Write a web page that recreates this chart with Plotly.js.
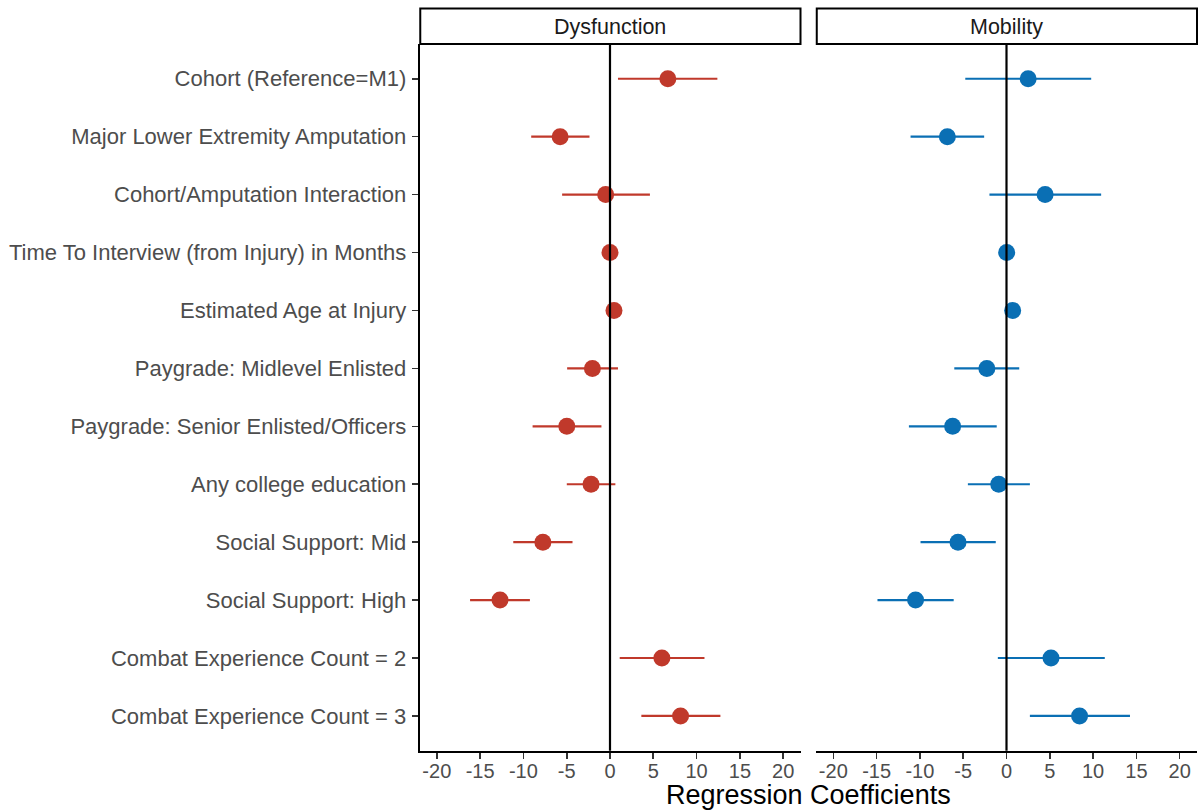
<!DOCTYPE html>
<html>
<head>
<meta charset="utf-8">
<script src="https://cdn.plot.ly/plotly-3.0.1.min.js"></script>
<style>html,body{margin:0;padding:0;background:#fff;}#chart{width:1201px;height:811px;}</style>
</head>
<body>
<div id="chart"></div>
<script>
const terms = [
  "Cohort (Reference=M1)",
  "Major Lower Extremity Amputation",
  "Cohort/Amputation Interaction",
  "Time To Interview (from Injury) in Months",
  "Estimated Age at Injury",
  "Paygrade: Midlevel Enlisted",
  "Paygrade: Senior Enlisted/Officers",
  "Any college education",
  "Social Support: Mid",
  "Social Support: High",
  "Combat Experience Count = 2",
  "Combat Experience Count = 3"
];
const panels = ["Dysfunction", "Mobility"];

const dysEst = [6.68, -5.76, -0.5, 0.0, 0.46, -2.03, -4.99, -2.19, -7.75, -12.7, 5.99, 8.15];
const dysLo  = [0.92, -9.1, -5.53, -0.3, 0.2, -4.95, -8.94, -4.99, -11.17, -16.16, 1.12, 3.62];
const dysHi  = [12.4, -2.37, 4.61, 0.3, 0.7, 0.92, -0.99, 0.62, -4.33, -9.25, 10.91, 12.75];

const mobEst = [2.5, -6.83, 4.46, 0.02, 0.71, -2.27, -6.22, -0.9, -5.6, -10.5, 5.14, 8.44];
const mobLo  = [-4.76, -11.08, -1.97, -0.3, 0.45, -6.03, -11.27, -4.46, -9.93, -14.9, -1.0, 2.7];
const mobHi  = [9.78, -2.58, 10.93, 0.35, 1.0, 1.47, -1.13, 2.7, -1.24, -6.1, 11.35, 14.26];

const tickVals = [-20, -15, -10, -5, 0, 5, 10, 15, 20];
const tickText = ["-20", "-15", "-10", "-5", "0", "5", "10", "15", "20"];

const red = "#C0392B";
const blue = "#0A6FB4";
const FONT = "Liberation Sans, Arial, Helvetica, sans-serif";

function trace(est, lo, hi, color, xa, ya) {
  return {
    type: "scatter", mode: "markers",
    x: est, y: terms, xaxis: xa, yaxis: ya,
    marker: {color: color, size: 17},
    error_x: {
      type: "data", symmetric: false,
      array: hi.map((h, i) => h - est[i]),
      arrayminus: lo.map((l, i) => est[i] - l),
      color: color, thickness: 2.2, width: 0
    },
    showlegend: false, hoverinfo: "x+y"
  };
}

const data = [
  trace(dysEst, dysLo, dysHi, red, "x", "y"),
  trace(mobEst, mobLo, mobHi, blue, "x2", "y2")
];

const yTop = (811 - 44) / 811, yBot = (811 - 750.7) / 811;
const xCommon = {
  range: [-22, 22], tickmode: "array", tickvals: tickVals, ticktext: tickText,
  showgrid: false, zeroline: false, showline: true, linecolor: "#000", linewidth: 1.8,
  ticks: "outside", ticklen: 6, tickwidth: 1.6, tickcolor: "#333",
  ticklabelstandoff: -5,
  tickfont: {family: FONT, size: 20, color: "#4D4D4D"}, fixedrange: true
};
const yCommon = {
  type: "category", categoryarray: terms, range: [11.6, -0.6],
  showgrid: false, zeroline: false, fixedrange: true
};

const layout = {
  width: 1201, height: 811,
  margin: {l: 0, r: 0, t: 0, b: 0},
  paper_bgcolor: "#fff", plot_bgcolor: "#fff",
  font: {family: FONT},
  xaxis: Object.assign({}, xCommon, {domain: [419.5/1201, 800.5/1201], anchor: "y"}),
  xaxis2: Object.assign({}, xCommon, {domain: [816/1201, 1197/1201], anchor: "y2"}),
  yaxis: Object.assign({}, yCommon, {
    domain: [yBot, yTop], anchor: "x",
    showline: true, linecolor: "#000", linewidth: 1.8,
    ticks: "outside", ticklen: 6, tickwidth: 1.6, tickcolor: "#333",
    ticklabelstandoff: 1,
    tickfont: {family: FONT, size: 22, color: "#4D4D4D"}
  }),
  yaxis2: Object.assign({}, yCommon, {
    domain: [yBot, yTop], anchor: "x2", matches: "y",
    showline: false, ticks: "", showticklabels: false
  }),
  shapes: [
    {type: "line", xref: "x", yref: "y domain", x0: 0, x1: 0, y0: 0, y1: 1, line: {color: "#000", width: 2.2}},
    {type: "line", xref: "x2", yref: "y2 domain", x0: 0, x1: 0, y0: 0, y1: 1, line: {color: "#000", width: 2.2}},
    {type: "rect", xref: "x domain", yref: "paper", x0: 0.002, x1: 1, y0: (811-44)/811, y1: (811-8.5)/811, fillcolor: "#fff", line: {color: "#000", width: 2}},
    {type: "rect", xref: "x2 domain", yref: "paper", x0: 0.002, x1: 1, y0: (811-44)/811, y1: (811-8.5)/811, fillcolor: "#fff", line: {color: "#000", width: 2}}
  ],
  annotations: [
    {text: panels[0], xref: "x domain", yref: "paper", x: 0.5, y: (811-26.5)/811, showarrow: false, xanchor: "center", yanchor: "middle", font: {family: FONT, size: 21.5, color: "#1A1A1A"}},
    {text: panels[1], xref: "x2 domain", yref: "paper", x: 0.5, y: (811-26.5)/811, showarrow: false, xanchor: "center", yanchor: "middle", font: {family: FONT, size: 21.5, color: "#1A1A1A"}},
    {text: "Regression Coefficients", xref: "paper", yref: "paper", x: 808/1201, y: 0, showarrow: false, xanchor: "center", yanchor: "bottom", borderpad: 0, font: {family: FONT, size: 27, color: "#000"}}
  ]
};

Plotly.newPlot("chart", data, layout, {displayModeBar: false, staticPlot: true});
</script>
</body>
</html>
